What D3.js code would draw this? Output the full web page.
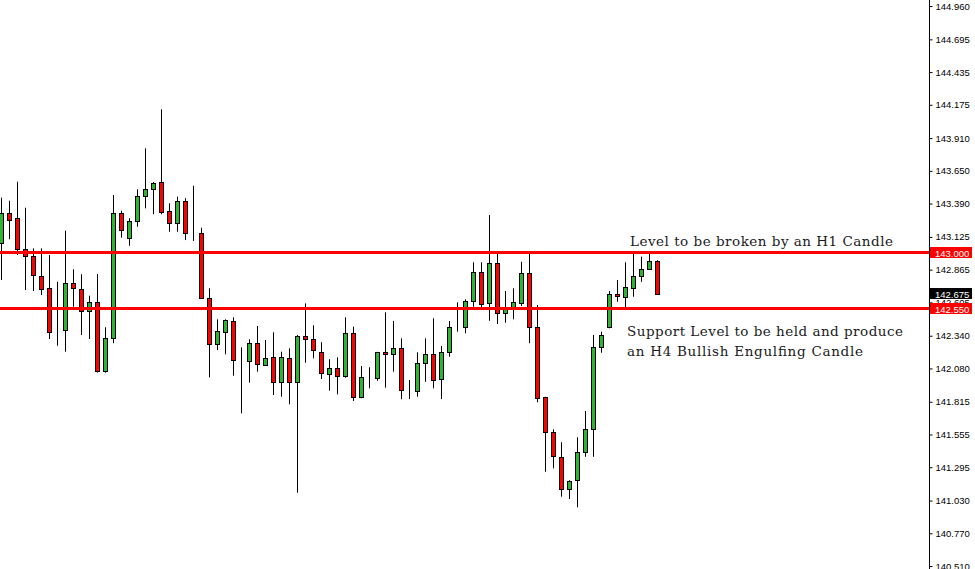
<!DOCTYPE html>
<html>
<head>
<meta charset="utf-8">
<script src="https://cdn.jsdelivr.net/npm/d3@7"></script>
<style>
  body { margin: 0; background: #fff; }
  svg { display: block; }
</style>
</head>
<body>
<div id="chart"></div>
<script>
// candle data, index = bar number
var open = [143.074,143.313,143.273,143.029,142.970,142.817,142.717,142.376,142.380,142.756,
  142.709,142.531,142.605,142.054,142.319,143.313,143.119,143.254,143.445,143.503,
  143.558,143.331,143.233,143.410,143.154,143.158,142.642,142.274,142.372,142.459,
  142.141,142.133,142.280,142.107,142.168,141.970,142.160,141.970,142.338,142.311,
  142.213,142.041,142.086,142.014,142.359,141.850,142.006,142.001,142.208,142.192,
  142.240,141.903,141.895,142.121,142.192,141.994,142.208,142.407,142.407,142.616,
  142.849,142.597,142.915,142.518,142.566,142.605,142.841,142.412,141.850,141.572,
  141.378,141.127,141.188,141.413,141.596,142.248,142.407,142.669,142.645,142.725,
  142.817,142.870,142.936];
var close = [143.313,143.259,143.029,142.970,142.822,142.711,142.367,142.376,142.756,142.717,
  142.531,142.605,142.054,142.319,143.313,143.174,143.254,143.450,143.503,143.551,
  143.321,143.233,143.410,143.154,143.154,142.642,142.274,142.380,142.465,142.152,
  142.141,142.280,142.115,142.160,141.970,142.168,141.970,142.338,142.311,142.226,
  142.046,142.087,142.020,142.359,141.850,142.009,142.006,142.208,142.192,142.240,
  141.903,141.903,142.121,142.192,141.982,142.208,142.407,142.407,142.616,142.849,
  142.597,142.915,142.518,142.566,142.605,142.841,142.412,141.850,141.572,141.378,
  141.127,141.188,141.413,141.596,142.248,142.346,142.669,142.650,142.725,142.817,
  142.870,142.936,142.675];
var high = [143.437,143.413,143.564,143.357,143.034,143.034,142.981,142.769,143.174,142.868,
  142.828,142.658,142.830,142.407,143.458,143.333,143.273,143.503,143.829,143.561,
  144.139,143.392,143.445,143.432,143.532,143.198,142.717,142.470,142.470,142.486,
  142.248,142.311,142.417,142.306,142.367,142.213,142.240,142.346,142.597,142.423,
  142.288,142.153,142.168,142.486,142.412,142.099,142.089,142.212,142.526,142.457,
  142.319,141.988,142.208,142.319,142.478,142.258,142.457,142.605,142.629,142.923,
  142.923,143.299,142.995,142.695,142.717,142.928,142.995,142.584,141.855,141.596,
  141.493,141.192,141.533,141.742,142.346,142.372,142.695,142.783,142.923,142.995,
  142.968,142.995,142.940];
var low = [142.783,143.106,142.981,142.703,142.695,142.663,142.314,142.261,142.213,142.570,
  142.346,142.314,142.047,142.046,142.280,143.119,143.055,143.206,143.352,143.305,
  143.305,143.166,143.166,143.100,143.093,142.637,142.009,142.226,142.192,142.022,
  141.723,141.967,142.054,142.102,141.869,141.855,141.795,141.092,142.125,142.160,
  141.996,141.903,141.874,142.006,141.821,141.843,141.922,141.982,141.927,142.054,
  141.835,141.837,141.855,141.974,141.922,141.837,142.173,142.372,142.359,142.570,
  142.558,142.459,142.433,142.443,142.470,142.576,142.280,141.811,141.259,141.286,
  141.061,141.042,140.976,141.378,141.378,142.205,142.399,142.610,142.558,142.650,
  142.769,142.866,142.672];

var tickVals = [144.960,144.695,144.435,144.175,143.910,143.650,143.390,143.125,142.865,
  142.605,142.340,142.080,141.815,141.555,141.295,141.030,140.770,140.510];
var levels = [143.000, 142.550];
var lastPrice = 142.675;
var notes = ["Level to be broken by an H1 Candle",
  "Support Level to be held and produce",
  "an H4 Bullish Engulfing Candle"];

var w = 975, h = 569,
    axisX = 929;

var green = "#2db52d", red = "#ff0000";

var svg = d3.select("#chart").append("svg")
    .attr("width", w)
    .attr("height", h)
    .style("background-color", "#fff");

var x = d3.scaleLinear().domain([0, open.length - 1]).range([1, 657]);
var y = d3.scaleLinear().domain([140.510, 144.960]).range([566, 6]);

var idx = d3.range(open.length);

// wicks
svg.append("g").selectAll("line")
    .data(idx)
    .enter()
    .append("line")
    .attr("x1", function (i) { return Math.round(x(i)) + 0.5; })
    .attr("x2", function (i) { return Math.round(x(i)) + 0.5; })
    .attr("y1", function (i) { return y(high[i]); })
    .attr("y2", function (i) { return y(low[i]); })
    .attr("stroke", "#000")
    .attr("stroke-width", 1);

// bodies
svg.append("g").selectAll("rect")
    .data(idx)
    .enter()
    .append("rect")
    .attr("x", function (i) { return Math.round(x(i)) - 2 + 0.5; })
    .attr("y", function (i) { return Math.round(y(Math.max(open[i], close[i]))) + 0.5; })
    .attr("width", 4)
    .attr("height", function (i) {
        return Math.max(0, Math.round(Math.abs(y(open[i]) - y(close[i]))));
    })
    .attr("fill", function (i) {
        if (open[i] == close[i]) return "#000";
        return close[i] > open[i] ? green : red;
    })
    .attr("stroke", "#000")
    .attr("stroke-width", 1);

// horizontal levels
svg.append("g").selectAll("line")
    .data(levels)
    .enter()
    .append("line")
    .attr("x1", 0)
    .attr("x2", axisX)
    .attr("y1", function (d) { return Math.round(y(d)) - 0.5; })
    .attr("y2", function (d) { return Math.round(y(d)) - 0.5; })
    .attr("stroke", red)
    .attr("stroke-width", 3);

// price axis
svg.append("line")
    .attr("x1", axisX + 0.5).attr("x2", axisX + 0.5)
    .attr("y1", 0).attr("y2", h)
    .attr("stroke", "#000");

var yAxis = d3.axisRight(y)
    .tickValues(tickVals)
    .tickSize(3)
    .tickSizeOuter(0)
    .tickPadding(3)
    .tickFormat(d3.format(".3f"));

var ax = svg.append("g")
    .attr("transform", "translate(" + (axisX + 0.5) + ",0)")
    .call(yAxis);
ax.select(".domain").remove();
ax.selectAll("text")
    .attr("font-family", "Liberation Sans, Arial, sans-serif")
    .attr("font-size", "9.5px")
    .attr("fill", "#000");

// price labels on the axis
var tags = [
    { v: levels[0], fill: red },
    { v: levels[1], fill: red },
    { v: lastPrice, fill: "#000" }
];
var tg = svg.append("g").selectAll("g")
    .data(tags)
    .enter()
    .append("g")
    .attr("transform", function (d) { return "translate(" + (axisX + 1) + "," + Math.round(y(d.v)) + ")"; });
tg.append("rect")
    .attr("x", 0).attr("y", -6)
    .attr("width", 42).attr("height", 11)
    .attr("fill", function (d) { return d.fill; });
tg.append("text")
    .attr("x", 5).attr("y", 3.5)
    .attr("font-family", "Liberation Sans, Arial, sans-serif")
    .attr("font-size", "9.5px")
    .attr("fill", "#fff")
    .text(function (d) { return d3.format(".3f")(d.v); });

// notes
var noteStyle = function (sel) {
    sel.attr("font-family", "DejaVu Serif, serif")
       .attr("font-size", "13.5px")
       .attr("lengthAdjust", "spacing")
       .attr("fill", "#1a1a1a");
};
svg.append("text").attr("x", 630).attr("y", 246).attr("textLength", 263).text(notes[0]).call(noteStyle);
svg.append("text").attr("x", 627).attr("y", 336).attr("textLength", 276).text(notes[1]).call(noteStyle);
svg.append("text").attr("x", 627).attr("y", 355.5).attr("textLength", 236).text(notes[2]).call(noteStyle);
</script>
</body>
</html>
